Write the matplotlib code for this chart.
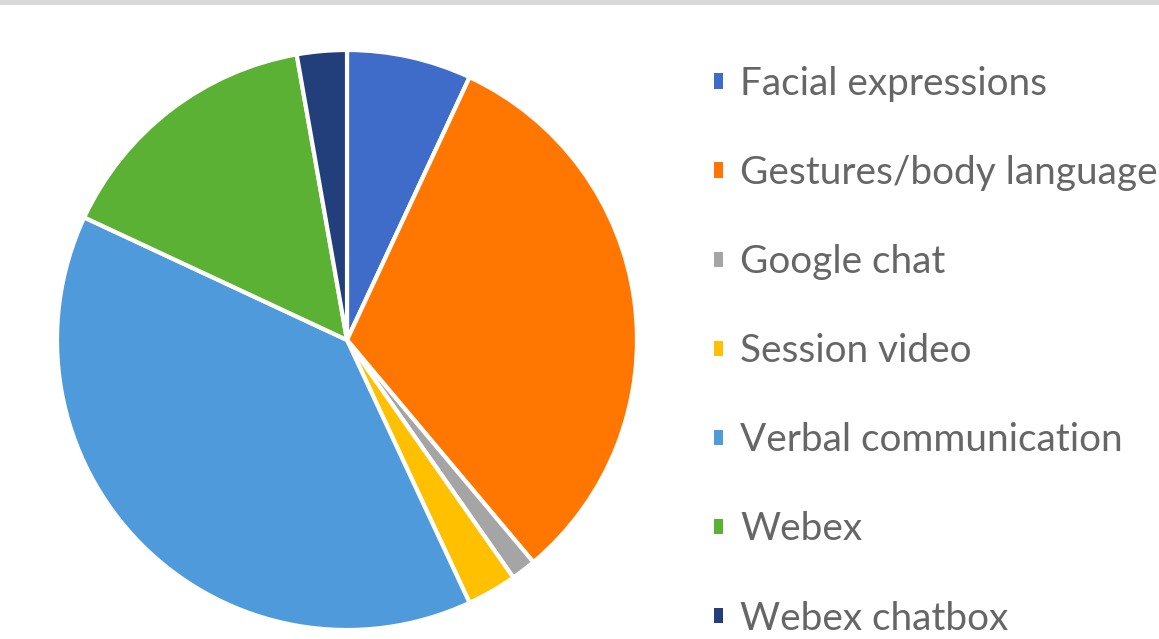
import matplotlib
matplotlib.use("Agg")
import matplotlib.pyplot as plt
from matplotlib.patches import Patch, Rectangle

categories = ["Facial expressions", "Gestures/body language", "Google chat",
              "Session video", "Verbal communication", "Webex", "Webex chatbox"]
values = [5, 23, 1, 2, 28, 11, 2]
colors = ["#3F6BC9", "#FF7700", "#A5A5A5", "#FFC000", "#4E9ADB", "#5BB133", "#223F7B"]

W, H = 1159, 639
fig = plt.figure(figsize=(W / 100, H / 100), dpi=100)
fig.patch.set_facecolor("white")
fig.patches.append(Rectangle((0, 1 - 5 / H), 1, 5 / H, transform=fig.transFigure,
                             facecolor="#D9D9D9", edgecolor="none"))

cx, cy, r = 347, 340, 290
ax = fig.add_axes([(cx - r) / W, (H - cy - r) / H, 2 * r / W, 2 * r / H])
ax.pie(values, colors=colors, startangle=90, counterclock=False,
       wedgeprops=dict(edgecolor="white", linewidth=3))
ax.set_xlim(-1, 1)
ax.set_ylim(-1, 1)
ax.set_aspect("equal")
ax.axis("off")

handles = [Patch(facecolor=c, edgecolor="none") for c in colors]
leg = fig.legend(handles, categories, loc="upper left",
                 bbox_to_anchor=(714 / W, 1 - 66 / H),
                 frameon=False, prop=dict(family="Lato", size=27.9),
                 labelcolor="#666666", handlelength=0.23, handleheight=0.23,
                 handletextpad=0.44, labelspacing=1.37, borderaxespad=0,
                 borderpad=0)
fig.savefig("out.png", dpi=100, facecolor="white")
